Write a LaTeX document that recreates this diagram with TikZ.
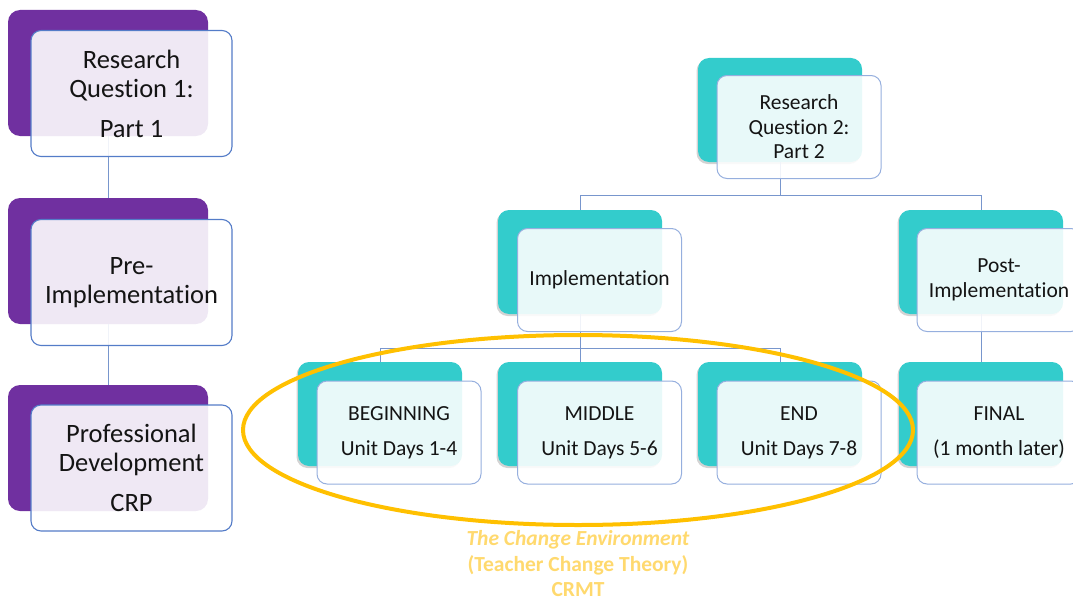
\documentclass[tikz,border=0pt]{standalone}
\usepackage{fontspec}
\setmainfont{Carlito}[Ligatures=NoCommon]
\usetikzlibrary{shapes.geometric,shadows}
\definecolor{rqpurple}{RGB}{112,48,160}
\definecolor{rqteal}{RGB}{51,204,204}
\definecolor{edgeblue}{RGB}{84,124,200}
\definecolor{edgelight}{RGB}{150,175,222}
\definecolor{linkblue}{RGB}{120,150,205}
\definecolor{envgold}{RGB}{255,192,0}
\definecolor{envtext}{RGB}{255,217,110}
\definecolor{ink}{RGB}{20,20,20}
\tikzset{
  backL/.style={rectangle, rounded corners=12pt, fill=rqpurple, minimum width=200pt, minimum height=126pt, inner sep=0pt},
  frontL/.style={rectangle, rounded corners=10pt, draw=edgeblue, line width=1.1pt, fill=white, fill opacity=0.89, text opacity=1,
    minimum width=201pt, minimum height=126pt, inner sep=0pt, align=center, text=ink, font=\fontsize{26.5}{29}\selectfont},
  backR/.style={rectangle, rounded corners=11pt, fill=rqteal, minimum width=164pt, minimum height=104pt, inner sep=0pt,
    drop shadow={shadow xshift=-1.5pt, shadow yshift=-2pt, opacity=0.35}},
  frontR/.style={rectangle, rounded corners=10pt, draw=edgelight, line width=1pt, fill=white, fill opacity=0.89, text opacity=1,
    minimum width=164pt, minimum height=103pt, inner sep=0pt, align=center, text=ink, font=\fontsize{21.5}{24.5}\selectfont},
  link/.style={draw=linkblue, line width=0.9pt},
}
\begin{document}
\begin{tikzpicture}[x=1pt,y=-1pt]
\useasboundingbox (0,0) rectangle (1073,602);

% junctions of the tree connectors
\coordinate (j1) at (780,195);
\coordinate (j2) at (580,348);

% left column: back panels
\node[backL] (rq1b) at (108,73) {};
\node[backL] (preb) at (108,261) {};
\node[backL] (pdb) at (108,448) {};
\draw[link] (rq1b.south) -- (preb.north);
\draw[link] (preb.south) -- (pdb.north);

% right tree: back panels
\node[backR] (rq2b) at (780,110) {};
\node[backR] (implb) at (580,262) {};
\node[backR] (postb) at (981,262) {};
\node[backR] (begb) at (380,414) {};
\node[backR] (midb) at (580,414) {};
\node[backR] (endb) at (780,414) {};
\node[backR] (finb) at (981,414) {};

% tree connectors
\draw[link] (rq2b.south) -- (j1) -| (implb.north);
\draw[link] (j1) -| (postb.north);
\draw[link] (implb.south) -- (j2) -| (begb.north);
\draw[link] (j2) -| (endb.north);
\draw[link] (j2) -- (midb.north);
\draw[link] (postb.south) -- (finb.north);

% left column: front panels
\node[frontL] (rq1) at (131.5,93.5) {Research\\Question 1:\\[11pt]Part 1};
\node[frontL] (pre) at (131.5,282.5) {Pre-\\Implementation};
\node[frontL] (pd) at (131.5,468) {Professional\\Development\\[11pt]CRP};

% right tree: front panels
\node[frontR] (rq2) at (799,127) {Research\\Question 2:\\Part 2};
\node[frontR] (impl) at (599.5,280) {Implementation};
\node[frontR] (post) at (999,280) {Post-\\Implementation};
\node[frontR] (beg) at (399,432.5) {BEGINNING\\[10.5pt]Unit Days 1-4};
\node[frontR] (mid) at (599.5,432.5) {MIDDLE\\[10.5pt]Unit Days 5-6};
\node[frontR] (end) at (799,432.5) {END\\[10.5pt]Unit Days 7-8};
\node[frontR] (fin) at (999,432.5) {FINAL\\[10.5pt](1 month later)};

% the change environment
\node[ellipse, draw=envgold, line width=4pt, minimum width=670pt, minimum height=190pt, inner sep=0pt] (env) at (578,430) {};
\node[align=center, text=envtext, font=\bfseries\fontsize{21.5}{25.5}\selectfont, inner sep=0pt] (envlabel) at (578,564)
  {\itshape The Change Environment\\(Teacher Change Theory)\\CRMT};
\end{tikzpicture}
\end{document}
